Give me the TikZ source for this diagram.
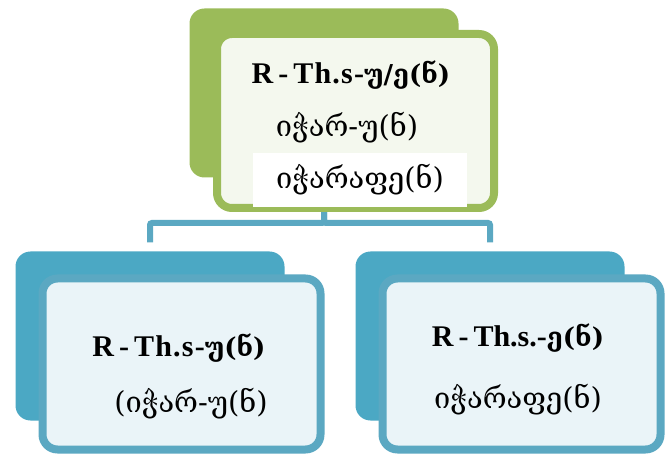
\documentclass[tikz,border=0pt]{standalone}
\usepackage{fontspec}
\setmainfont{Liberation Serif}
\newfontfamily\geo{DejaVu Serif}
\newcommand\rth[1]{{\addfontfeature{LetterSpace=4}R\,-\,Th.s-}{\geo\fontsize{26}{30}\selectfont #1}}
\definecolor{olivegreen}{HTML}{9BBB59}
\definecolor{olivelight}{HTML}{F4F8EE}
\definecolor{teal}{HTML}{4BA8C4}
\definecolor{teallight}{HTML}{EAF4F8}
\definecolor{tealline}{HTML}{5BA8C2}
\begin{document}
\begin{tikzpicture}[x=1pt,y=-1pt,
    backbox/.style={fill=#1,rounded corners=15pt,inner sep=0pt,minimum width=269pt,minimum height=169pt},
    frontbox/.style={draw=#1,line width=8pt,rounded corners=15pt,inner sep=0pt,minimum width=278pt,minimum height=171pt},
    link/.style={draw=tealline,line width=6pt,rounded corners=2pt},
    label/.style={font=\geo\fontsize{29}{32}\selectfont,inner sep=0pt},
    title/.style={font=\fontsize{30}{32}\selectfont\bfseries,inner sep=0pt}]
      \useasboundingbox (0,0) rectangle (672,454);
      % back plates
      \node[backbox=olivegreen] (topback) at (324,93) {};
      \node[backbox=teal] (leftback) at (150,336) {};
      \node[backbox=teal] (rightback) at (490,336) {};
      % connectors
      \coordinate (bus) at (324,223);
      \draw[link,shorten >=9pt] (topback.south) |- (bus -| leftback.north) -- (leftback.north);
      \draw[link,shorten >=9pt] (topback.south) |- (bus -| rightback.north) -- (rightback.north);
      % front boxes
      \node[frontbox=olivegreen,fill=olivelight,minimum height=174pt,minimum width=277pt] (topfront) at (355.5,121) {};
      \node[frontbox=tealline,fill=teallight] (leftfront) at (181.5,364) {};
      \node[frontbox=tealline,fill=teallight] (rightfront) at (521.5,364) {};
      % texts
      \node[title] (topa) at (351,75) {\rth{უ/ე(ნ)}};
      \node[label] (topb) at (347,128) {იჭარ-უ(ნ)};
      \node[label,fill=white,minimum width=214pt,minimum height=54pt] (topc) at (360,180) {იჭარაფე(ნ)};
      \node[title] (lefta) at (179,348) {\rth{უ(ნ)}};
      \node[label] (leftb) at (191,404) {(იჭარ-უ(ნ)};
      \node[title] (righta) at (518,338) {R\,-\,Th.s.-{\geo\fontsize{26}{30}\selectfont ე(ნ)}};
      \node[label] (rightb) at (518,400) {იჭარაფე(ნ)};
\end{tikzpicture}
\end{document}
